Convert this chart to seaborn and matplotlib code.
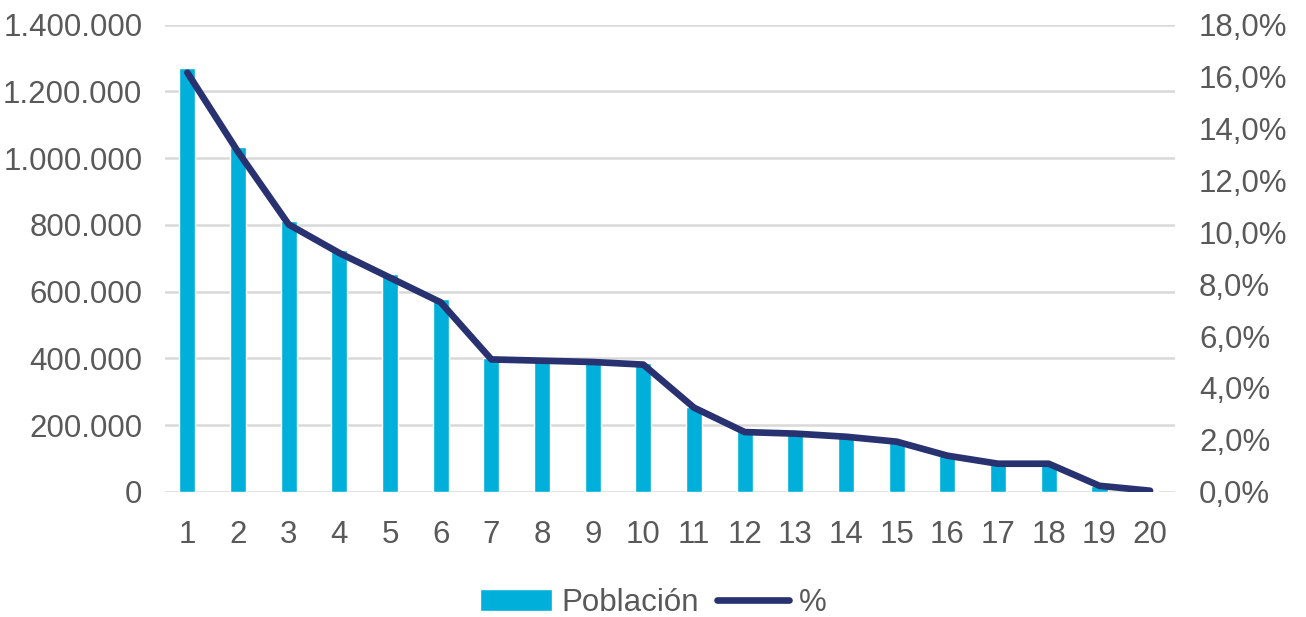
import numpy as np
import pandas as pd
import matplotlib
matplotlib.use("Agg")
import matplotlib.pyplot as plt
import seaborn as sns
from matplotlib.ticker import FuncFormatter, MultipleLocator

# data
rank = list(range(1, 21))
poblacion = [1271000, 1032000, 813000, 724000, 654000, 579000, 402000, 398000,
             393000, 385000, 255000, 181000, 176000, 166000, 152000, 110000,
             85000, 85000, 18000, 3000]
pct = [16.15, 13.1, 10.3, 9.2, 8.25, 7.3, 5.1, 5.05, 5.0, 4.9, 3.24, 2.3,
       2.24, 2.12, 1.93, 1.39, 1.08, 1.08, 0.23, 0.04]

df = pd.DataFrame({"rank": rank, "Población": poblacion, "%": pct})

sns.set_theme(style="white")
plt.rcParams["font.family"] = ["Liberation Sans", "DejaVu Sans"]
txt = "#595959"
bar_c = "#00B0DA"
line_c = "#283271"
fs = 22.5

fig, ax = plt.subplots(figsize=(13.06, 6.17), dpi=100)
fig.subplots_adjust(left=0.126, right=0.9, top=0.96, bottom=0.203)

sns.barplot(data=df, x="rank", y="Población", native_scale=True, width=0.32,
            color=bar_c, saturation=1, ax=ax, label="Población", zorder=2)
ax.set_ylim(0, 1400000)
ax.yaxis.set_major_locator(MultipleLocator(200000))
ax.yaxis.set_major_formatter(FuncFormatter(lambda v, p: f"{int(v):,}".replace(",", ".")))
ax.grid(axis="y", color="#d9d9d9", linewidth=1.8, zorder=0)
ax.set_axisbelow(True)

ax2 = ax.twinx()
sns.lineplot(data=df, x="rank", y="%", color=line_c, linewidth=4.8,
             solid_capstyle="round", ax=ax2, label="%")
ax2.set_ylim(0, 18)
ax2.yaxis.set_major_locator(MultipleLocator(2))
ax2.yaxis.set_major_formatter(FuncFormatter(lambda v, p: f"{v:.1f}%".replace(".", ",")))

ax.set_xlim(0.55, 20.5)
ax.set_xticks(rank)
ax.set_xticklabels([str(r) for r in rank])

for a in (ax, ax2):
    a.set_xlabel("")
    a.set_ylabel("")
    for s in a.spines.values():
        s.set_visible(False)
    a.tick_params(length=0, labelsize=fs, colors=txt)
ax.tick_params(axis="y", pad=16)
ax2.tick_params(axis="y", pad=17)
ax.tick_params(axis="x", pad=20)

h1, l1 = ax.get_legend_handles_labels()
h2, l2 = ax2.get_legend_handles_labels()
if ax2.get_legend():
    ax2.get_legend().remove()
if ax.get_legend():
    ax.get_legend().remove()
fig.legend(h1 + h2, l1 + l2, loc="center", bbox_to_anchor=(0.5, 1 - 603 / 617),
           ncol=2, frameon=False, fontsize=fs, labelcolor=txt,
           handlelength=2.3, handletextpad=0.3, columnspacing=0.6)

fig.savefig("out.png", dpi=100)
